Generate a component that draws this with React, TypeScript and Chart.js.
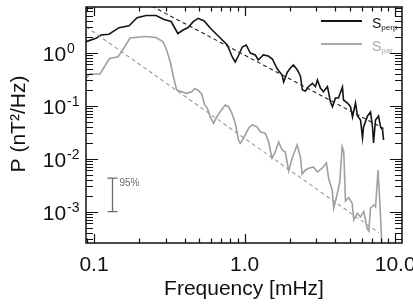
import { useEffect, useRef } from "react";
import { Chart, registerables } from "chart.js";

Chart.register(...registerables);

// Perpendicular power spectrum S_perp (frequency in mHz, power in nT^2/Hz)
const perpFreq = [
  0.0885, 0.1031, 0.1113, 0.1258, 0.1466, 0.1709, 0.1932, 0.2218, 0.2585, 0.2922,
  0.3253, 0.3604, 0.3911, 0.4219, 0.4557, 0.4918, 0.5393, 0.5911, 0.6892, 0.7672,
  0.8284, 0.8672, 0.908, 0.9654, 1.026, 1.091, 1.178, 1.233, 1.331, 1.438,
  1.529, 1.651, 1.774, 1.818, 1.923, 2.014, 2.109, 2.242, 2.348, 2.421,
  2.534, 2.653, 2.821, 2.954, 3.046, 3.188, 3.338, 3.549, 3.717, 3.832,
  4.012, 4.201, 4.467, 4.536, 4.823, 5.05, 5.207, 5.452, 5.622, 5.887,
  6.07, 6.164, 6.553, 6.861, 7.074, 7.184, 7.406, 7.755, 7.996, 8.245,
  8.373,
];
const perpPower = [
  1.612, 1.869, 2.158, 2.225, 2.963, 3.232, 4.575, 5.034, 5.034, 4.23,
  3.879, 2.303, 2.682, 2.989, 3.845, 4.458, 3.964, 2.924, 1.894, 1.397,
  0.8297, 0.668, 0.8664, 1.281, 1.397, 0.987, 0.905, 0.7283, 0.905, 0.8664,
  0.7606, 0.4927, 0.3796, 0.28, 0.4286, 0.5143, 0.5859, 0.4717, 0.3635, 0.1978,
  0.1894, 0.2283, 0.2646, 0.2283, 0.3054, 0.2158, 0.1836, 0.2283, 0.119, 0.0957,
  0.1397, 0.1397, 0.2253, 0.1281, 0.1124, 0.0957, 0.0612, 0.1124, 0.0639, 0.0537,
  0.0246, 0.0396, 0.0639, 0.076, 0.0396, 0.0198, 0.0537, 0.0639, 0.0396, 0.0348,
  0.0225,
];

// Parallel power spectrum S_par
const parFreq = [
  0.0885, 0.0934, 0.1096, 0.1268, 0.1444, 0.1524, 0.1736, 0.2184, 0.2585, 0.2878,
  0.3037, 0.3228, 0.337, 0.3538, 0.3822, 0.4123, 0.4454, 0.4664, 0.4883, 0.5191,
  0.5434, 0.5646, 0.5911, 0.6217, 0.655, 0.6892, 0.744, 0.7826, 0.8245, 0.8672,
  0.9122, 0.9363, 0.9847, 1.063, 1.12, 1.209, 1.272, 1.373, 1.444, 1.521,
  1.601, 1.684, 1.774, 1.865, 1.962, 2.077, 2.232, 2.348, 2.41, 2.534,
  2.666, 2.865, 3.046, 3.273, 3.496, 3.622, 3.815, 3.91, 4.119, 4.287,
  4.446, 4.557, 4.677, 4.919, 5.183, 5.311, 5.596, 5.887, 6.191, 6.523,
  6.683, 6.861, 7.217, 7.406, 7.694, 7.933, 8.119, 8.207,
];
const parPower = [
  0.3289, 0.3963, 0.3963, 0.7773, 0.8403, 1.044, 1.894, 2.021, 1.935, 1.612,
  1.124, 0.631, 0.3479, 0.1978, 0.1836, 0.1714, 0.1836, 0.2112, 0.1978, 0.1663,
  0.1031, 0.0905, 0.062, 0.0466, 0.062, 0.077, 0.1031, 0.0957, 0.0719, 0.0466,
  0.0221, 0.0195, 0.0243, 0.0375, 0.0432, 0.0402, 0.0323, 0.0301, 0.0209, 0.01017,
  0.01355, 0.02066, 0.0146, 0.01338, 0.00586, 0.01053, 0.01814, 0.01076, 0.00514, 0.00612,
  0.00659, 0.00697, 0.00561, 0.00659, 0.0083, 0.00414, 0.00257, 0.001174, 0.00216, 0.00363,
  0.01684, 0.01338, 0.00159, 0.00185, 0.00144, 0.000697, 0.000933, 0.000794, 0.001, 0.000472,
  0.000432, 0.001174, 0.001338, 0.001227, 0.00612, 0.001227, 0.000319, 0.0002,
];

// Power-law fits (slopes -1.5 and -2)
const perpFitFreq = [0.2, 8.4];
const perpFitPower = [10.06, 0.037];
const parFitFreq = [0.0885, 7.8];
const parFitPower = [3.095, 0.000398];

// 95% confidence bar
const errFreq = 0.132;
const errLow = 0.001;
const errHigh = 0.0043;
const errLabel = "95%";

// Axes
const xRange = [0.0885, 11.1];
const yRange = [0.0002567, 7.28];
const xMajor = [0.1, 1, 10];
const xMajorLabels = ["0.1", "1.0", "10.0"];
const yMajor = [0.001, 0.01, 0.1, 1];
const yMajorExp = ["-3", "-2", "-1", "0"];
const xTitle = "Frequency [mHz]";
const yTitle = "P (nT\u00B2/Hz)";

const seriesNames = [
  { main: "S", sub: "perp", color: "#151515" },
  { main: "S", sub: "par", color: "#a8a8a8" },
];

const FONT = '"Liberation Sans", Arial, sans-serif';

const pts = (xs: number[], ys: number[]) => xs.map((x, i) => ({ x, y: ys[i] }));

const decorations = {
  id: "decorations",
  afterDatasetsDraw(chart: any) {
    const { ctx, chartArea: a, scales } = chart;
    const xs = scales.x;
    const ys = scales.y;
    ctx.save();

    // inward tick marks on all four sides
    ctx.strokeStyle = "#111";
    ctx.lineWidth = 1.2;
    ctx.beginPath();
    for (let n = -2; n <= 1; n++) {
      for (let k = 1; k <= 9; k++) {
        const v = k * Math.pow(10, n);
        if (v < xs.min || v > xs.max) continue;
        const px = Math.round(xs.getPixelForValue(v)) + 0.5;
        const len = k === 1 ? 9 : 4.5;
        ctx.moveTo(px, a.bottom);
        ctx.lineTo(px, a.bottom - len);
        ctx.moveTo(px, a.top);
        ctx.lineTo(px, a.top + len);
      }
    }
    for (let n = -4; n <= 0; n++) {
      for (let k = 1; k <= 9; k++) {
        const v = k * Math.pow(10, n);
        if (v < ys.min || v > ys.max) continue;
        const py = Math.round(ys.getPixelForValue(v)) + 0.5;
        const len = k === 1 ? 12 : 7;
        ctx.moveTo(a.left, py);
        ctx.lineTo(a.left + len, py);
        ctx.moveTo(a.right, py);
        ctx.lineTo(a.right - len, py);
      }
    }
    ctx.stroke();

    // plot frame
    ctx.lineWidth = 1.5;
    ctx.strokeRect(a.left, a.top, a.right - a.left, a.bottom - a.top);

    // confidence bar
    const ex = Math.round(xs.getPixelForValue(errFreq)) + 0.5;
    const eTop = ys.getPixelForValue(errHigh);
    const eBot = ys.getPixelForValue(errLow);
    ctx.strokeStyle = "#6a6a6a";
    ctx.lineWidth = 1.3;
    ctx.beginPath();
    ctx.moveTo(ex, eTop);
    ctx.lineTo(ex, eBot);
    ctx.moveTo(ex - 5, eTop);
    ctx.lineTo(ex + 5, eTop);
    ctx.moveTo(ex - 5, eBot);
    ctx.lineTo(ex + 5, eBot);
    ctx.stroke();
    ctx.fillStyle = "#6a6a6a";
    ctx.font = `10px ${FONT}`;
    ctx.textAlign = "left";
    ctx.textBaseline = "alphabetic";
    ctx.fillText(errLabel, ex + 7, eTop + 7.5);

    // legend
    seriesNames.forEach((s, i) => {
      const ly = a.top + 14 + i * 23;
      ctx.strokeStyle = s.color;
      ctx.lineWidth = 1.8;
      ctx.beginPath();
      ctx.moveTo(a.right - 81, ly);
      ctx.lineTo(a.right - 40, ly);
      ctx.stroke();
      ctx.fillStyle = s.color;
      ctx.font = `14px ${FONT}`;
      ctx.fillText(s.main, a.right - 30, ly + 6.7);
      const w = ctx.measureText(s.main).width;
      ctx.font = `8px ${FONT}`;
      ctx.fillText(s.sub, a.right - 30 + w, ly + 9);
    });
    ctx.restore();
  },
  afterDraw(chart: any) {
    const { ctx, chartArea: a, scales } = chart;
    const xs = scales.x;
    const ys = scales.y;
    ctx.save();
    ctx.fillStyle = "#111";
    ctx.textBaseline = "alphabetic";

    // x tick labels
    ctx.font = `21px ${FONT}`;
    ctx.textAlign = "center";
    xMajor.forEach((v, i) => {
      ctx.fillText(xMajorLabels[i], xs.getPixelForValue(v), a.bottom + 27.7);
    });

    // y tick labels with exponents
    yMajor.forEach((v, i) => {
      const py = ys.getPixelForValue(v);
      ctx.font = `21px ${FONT}`;
      ctx.textAlign = "left";
      ctx.fillText("10", 42.7, py + 8);
      const w = ctx.measureText("10").width;
      ctx.font = `14px ${FONT}`;
      ctx.fillText(yMajorExp[i], 42.7 + w + 1, py + 0.8);
    });

    // axis titles
    ctx.font = `21px ${FONT}`;
    ctx.textAlign = "center";
    ctx.fillText(xTitle, (a.left + a.right) / 2, a.bottom + 52);
    ctx.translate(25, (a.top + a.bottom) / 2 - 1);
    ctx.rotate(-Math.PI / 2);
    ctx.fillText(yTitle, 0, 0);
    ctx.restore();
  },
};

export default function App() {
  const canvasRef = useRef<HTMLCanvasElement | null>(null);

  useEffect(() => {
    if (!canvasRef.current) return;
    const chart = new Chart(canvasRef.current, {
      type: "line",
      data: {
        datasets: [
          {
            label: "S_perp fit",
            data: pts(perpFitFreq, perpFitPower),
            borderColor: "#222",
            borderWidth: 1.1,
            borderDash: [4, 3],
            pointRadius: 0,
          },
          {
            label: "S_par fit",
            data: pts(parFitFreq, parFitPower),
            borderColor: "#9a9a9a",
            borderWidth: 1.1,
            borderDash: [4, 3],
            pointRadius: 0,
          },
          {
            label: "S_par",
            data: pts(parFreq, parPower),
            borderColor: "#a0a0a0",
            borderWidth: 1.6,
            pointRadius: 0,
            tension: 0,
          },
          {
            label: "S_perp",
            data: pts(perpFreq, perpPower),
            borderColor: "#151515",
            borderWidth: 1.6,
            pointRadius: 0,
            tension: 0,
          },
        ],
      },
      options: {
        responsive: false,
        maintainAspectRatio: false,
        animation: false,
        devicePixelRatio: 1,
        layout: { padding: { left: 86, right: 11, top: 7, bottom: 61 } },
        plugins: { legend: { display: false }, tooltip: { enabled: false } },
        scales: {
          x: { type: "logarithmic", min: xRange[0], max: xRange[1], display: false },
          y: { type: "logarithmic", min: yRange[0], max: yRange[1], display: false },
        },
      },
      plugins: [decorations],
    });
    return () => chart.destroy();
  }, []);

  return (
    <div style={{ position: "absolute", left: 0, top: 0, width: 413, height: 304, background: "#fff" }}>
      <canvas ref={canvasRef} width={413} height={304} style={{ display: "block" }} />
    </div>
  );
}
